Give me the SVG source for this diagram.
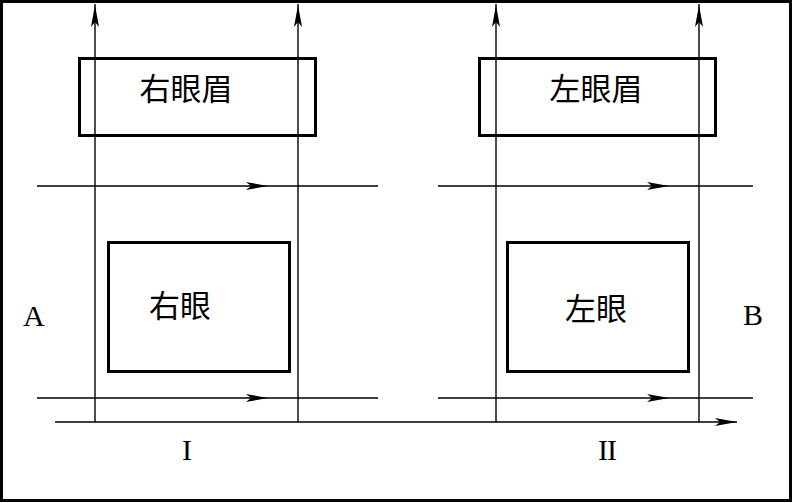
<svg xmlns="http://www.w3.org/2000/svg" width="793" height="503" viewBox="0 0 793 503">
<style>
.ln{stroke:#000;stroke-width:1.4;fill:none}
.box{stroke:#000;stroke-width:3;fill:none}
.cjk{font-family:"Noto Sans CJK SC",sans-serif;font-size:31px;fill:#000;text-anchor:middle}
.lat{font-family:"Liberation Serif",serif;font-size:30px;fill:#000}
</style>
<defs>
<path id="ah" d="M0,0 L-22,-4 L-17,0 L-22,4 Z" fill="#000"/>
</defs>
<rect x="1.5" y="1.5" width="789" height="499" fill="#fff" stroke="#000" stroke-width="3"/>
<g id="connectors">
<line class="ln" x1="95" y1="422" x2="95" y2="4"/>
<line class="ln" x1="298" y1="422" x2="298" y2="4"/>
<line class="ln" x1="496" y1="422" x2="496" y2="4"/>
<line class="ln" x1="699" y1="422" x2="699" y2="4"/>
<use href="#ah" transform="translate(95,5) rotate(-90)"/>
<use href="#ah" transform="translate(298,5) rotate(-90)"/>
<use href="#ah" transform="translate(496,5) rotate(-90)"/>
<use href="#ah" transform="translate(699,5) rotate(-90)"/>
<line class="ln" x1="37" y1="186" x2="378" y2="186"/>
<use href="#ah" transform="translate(268,186)"/>
<line class="ln" x1="438" y1="186" x2="753" y2="186"/>
<use href="#ah" transform="translate(669,186)"/>
<line class="ln" x1="37" y1="398" x2="378" y2="398"/>
<use href="#ah" transform="translate(268,398)"/>
<line class="ln" x1="438" y1="398" x2="753" y2="398"/>
<use href="#ah" transform="translate(669,398)"/>
<line class="ln" x1="55" y1="422" x2="737" y2="422"/>
<use href="#ah" transform="translate(737,422)"/>
</g>
<g id="right-brow"><rect class="box" x="79.5" y="58.5" width="236" height="77"/><text class="cjk" x="186" y="100">右眼眉</text></g>
<g id="left-brow"><rect class="box" x="479.5" y="58.5" width="236" height="77"/><text class="cjk" x="596" y="100">左眼眉</text></g>
<g id="right-eye"><rect class="box" x="108.5" y="242.5" width="181" height="129"/><text class="cjk" x="180" y="317">右眼</text></g>
<g id="left-eye"><rect class="box" x="507.5" y="242.5" width="181" height="129"/><text class="cjk" x="596" y="320">左眼</text></g>
<g id="labels">
<text class="lat" x="23" y="326">A</text>
<text class="lat" x="743" y="325">B</text>
<text class="lat" x="182" y="460">I</text>
<text class="lat" x="598" y="460" letter-spacing="-1">II</text>
</g>
</svg>
